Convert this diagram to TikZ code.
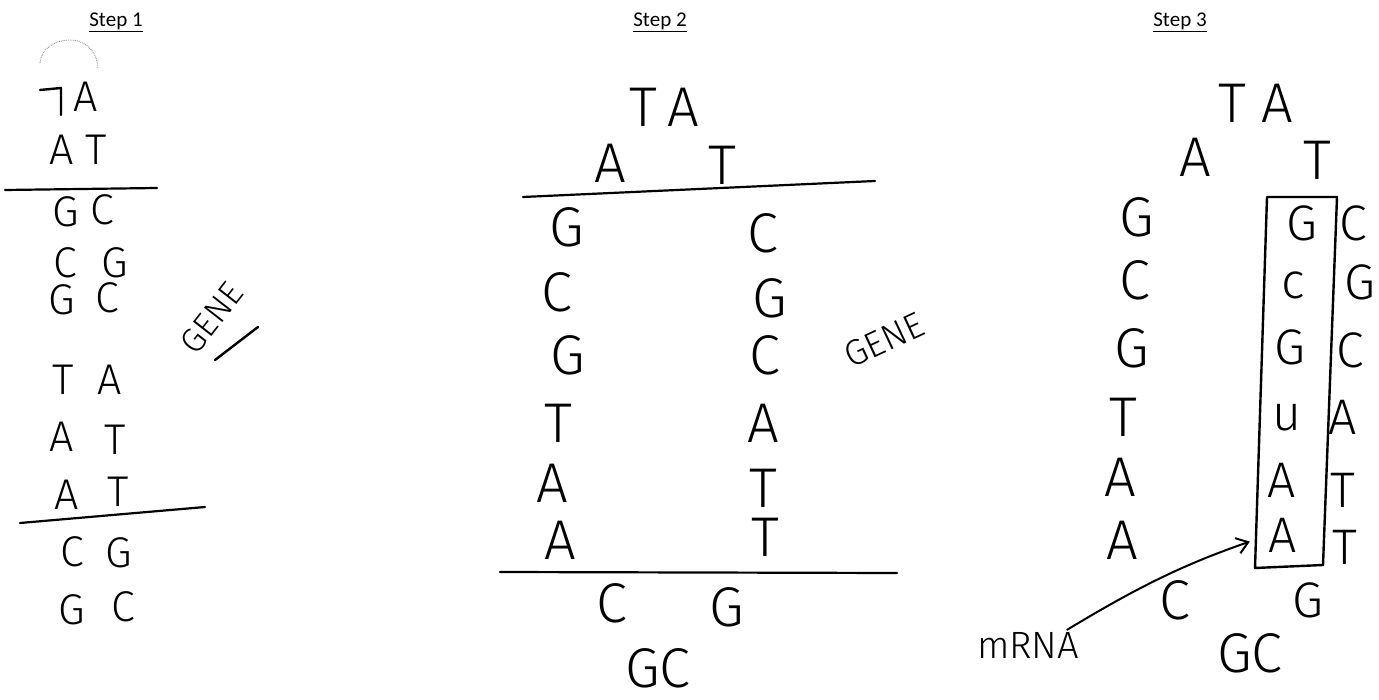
\documentclass[tikz,border=0pt]{standalone}
\usepackage{fontspec}
\setmainfont{Carlito}
\newfontfamily\hand{Fira Sans Light}
\usetikzlibrary{arrows.meta}
\tikzset{
  title/.style={font=\fontsize{21}{21}\selectfont, inner sep=0pt},
  sA/.style={font=\hand\fontsize{43}{43}\selectfont, inner sep=0pt},
  sB/.style={font=\hand\fontsize{56}{56}\selectfont, inner sep=0pt},
  sC/.style={font=\hand\fontsize{50}{50}\selectfont, inner sep=0pt},
  sep/.style={line width=2.2pt, line cap=round},
  pen/.style={line width=2pt, line cap=round, line join=round},
}
\begin{document}
\begin{tikzpicture}[x=1pt,y=-1pt]
\useasboundingbox (0,0) rectangle (1379,700);
% titles
\node[title] (t1) at (116,22) {\underline{Step 1}};
\node[title] (t2) at (660,22) {\underline{Step 2}};
\node[title] (t3) at (1180,22) {\underline{Step 3}};

% ---------- Step 1 ----------
\draw[gray, densely dotted, line width=0.8pt] (40,63) .. controls (42,35) and (95,28) .. (98,68);
\draw[pen, line width=2.4pt] (40,90) -- (61,88) -- (61,115);
\node[sA] (a1r) at (86,97) {A};
\node[sA] (a2l) at (62,150) {A}; \node[sA] (a2r) at (96,150) {T};
\coordinate (l1a) at (5,190); \coordinate (l1b) at (157,188);
\draw[sep] (l1a) -- (l1b);
\node[sA] (a3l) at (66,212) {G}; \node[sA] (a3r) at (102,210) {C};
\node[sA] (a4l) at (65,263) {C}; \node[sA] (a4r) at (115,263) {G};
\node[sA] (a5l) at (62,300) {G}; \node[sA] (a5r) at (107,298) {C};
\node[sA] (a6l) at (63,380) {T}; \node[sA] (a6r) at (110,380) {A};
\node[sA] (a7l) at (62,437) {A}; \node[sA] (a7r) at (115,440) {T};
\node[sA] (a8l) at (67,495) {A}; \node[sA] (a8r) at (118,492) {T};
\coordinate (l2a) at (20,523); \coordinate (l2b) at (205,507);
\draw[sep] (l2a) -- (l2b);
\node[sA] (a9l) at (72,552) {C}; \node[sA] (a9r) at (119,553) {G};
\node[sA] (a10l) at (72,610) {G}; \node[sA] (a10r) at (123,607) {C};
\node[font=\hand\fontsize{34}{34}\selectfont, inner sep=0pt, rotate=52] (g1) at (212,318) {GENE};
\coordinate (u1a) at (215,360); \coordinate (u1b) at (258,327);
\draw[pen, line width=2.4pt] (u1a) -- (u1b);

% ---------- Step 2 ----------
\node[sB] (b0l) at (643,107) {T}; \node[sB] (b0r) at (683,107) {A};
\node[sB] (b1l) at (610,163) {A}; \node[sB] (b1r) at (722,165) {T};
\coordinate (m1a) at (523,197); \coordinate (m1b) at (875,181);
\draw[sep] (m1a) -- (m1b);
\node[sB] (b2l) at (567,227) {G}; \node[sB] (b2r) at (763,233) {C};
\node[sB] (b3l) at (557,292) {C}; \node[sB] (b3r) at (770,298) {G};
\node[sB] (b4l) at (568,355) {G}; \node[sB] (b4r) at (765,355) {C};
\node[sB] (b5l) at (558,423) {T}; \node[sB] (b5r) at (763,423) {A};
\node[sB] (b6l) at (552,483) {A}; \node[sB] (b6r) at (763,488) {T};
\node[sB] (b7l) at (560,540) {A}; \node[sB] (b7r) at (765,537) {T};
\coordinate (m2a) at (500,572); \coordinate (m2b) at (897,573);
\draw[sep] (m2a) -- (m2b);
\node[sB] (b8l) at (612,603) {C}; \node[sB] (b8r) at (727,607) {G};
\node[sB] (b9) at (658,668) {GC};
\node[font=\hand\fontsize{36}{36}\selectfont, inner sep=0pt, rotate=25] (g2) at (884,340) {GENE};

% ---------- Step 3 ----------
\node[sB] (c0l) at (1232,103) {T}; \node[sB] (c0r) at (1277,103) {A};
\node[sB] (c1l) at (1195,157) {A}; \node[sB] (c1r) at (1317,160) {T};
\node[sB] (c2l) at (1137,217) {G};
\node[sB] (c3l) at (1135,280) {C};
\node[sB] (c4l) at (1132,348) {G};
\node[sB] (c5l) at (1123,417) {T};
\node[sB] (c6l) at (1120,477) {A};
\node[sB] (c7l) at (1122,540) {A};
\node[sC] (c2m) at (1302,223) {G};
\node[sC] (c3m) at (1293,285) {c};
\node[sC] (c4m) at (1290,347) {G};
\node[sC] (c5m) at (1287,418) {u};
\node[sC] (c6m) at (1282,480) {A};
\node[sC] (c7m) at (1283,535) {A};
\node[sC] (c2r) at (1353,223) {C};
\node[sC] (c3r) at (1360,282) {G};
\node[sC] (c4r) at (1350,350) {C};
\node[sC] (c5r) at (1343,417) {A};
\node[sC] (c6r) at (1343,490) {T};
\node[sC] (c7r) at (1345,547) {T};
\coordinate (bx1) at (1267,197); \coordinate (bx2) at (1337,197);
\coordinate (bx3) at (1323,565); \coordinate (bx4) at (1255,568);
\draw[pen, line width=2.4pt] (bx1) -- (bx2) -- (bx3) -- (bx4) -- cycle;
\node[sB] (c8l) at (1175,600) {C}; \node[sC] (c8r) at (1308,600) {G};
\node[sB] (c9) at (1250,653) {GC};
\node[font=\hand\fontsize{38}{38}\selectfont, inner sep=0pt] (mrna) at (1028,645) {mRNA};
\draw[pen, shorten >=20pt, -{Straight Barb[length=11pt,width=16pt,line width=2pt]}] (mrna.north east) ++(-12,-2) coordinate (ms) (ms) to[bend left=6] (c7m.west);
\end{tikzpicture}
\end{document}
